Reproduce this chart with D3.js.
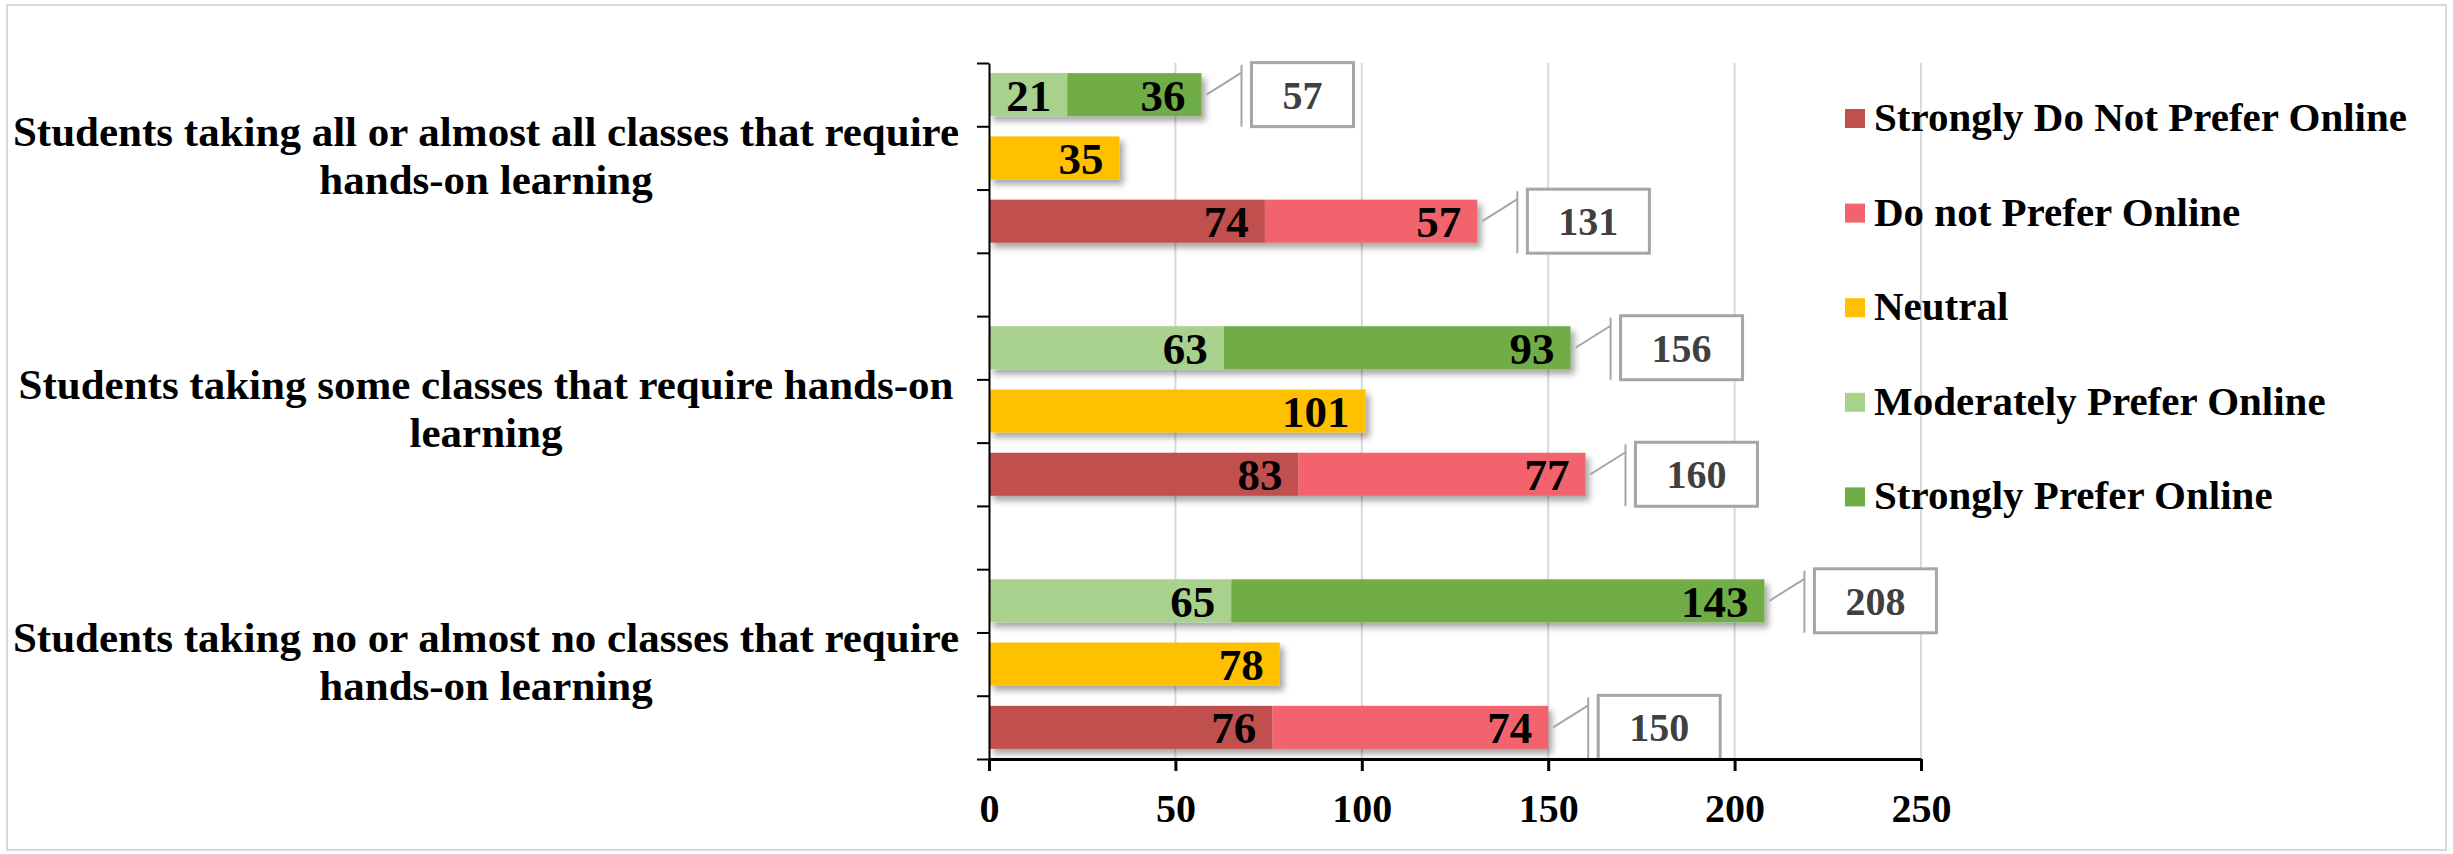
<!DOCTYPE html>
<html>
<head>
    <title>Online Preference by Hands-on Learning</title>
    <style>
        body { margin: 0; background: #fff; }
        svg { display: block; font-family: "Liberation Serif", "Times New Roman", serif; font-weight: bold; }
        .grid line { stroke: #d9d9d9; stroke-width: 2; }
        .axis path, .axis line { stroke: #000; }
        .total-box { fill: #fff; stroke: #a6a6a6; stroke-width: 3; }
        .leader { stroke: #a6a6a6; stroke-width: 2; fill: none; }
    </style>
</head>
<body>
    <svg id="chart"></svg>
    <script src="https://d3js.org/d3.v7.min.js"></script>
    <script>
        // Data
        const categoryLines = [
            ["Students taking all or almost all classes that require", "hands-on learning"],
            ["Students taking some classes that require hands-on", "learning"],
            ["Students taking no or almost no classes that require", "hands-on learning"]
        ];
        const seriesNames = ["Strongly Do Not Prefer Online", "Do not Prefer Online", "Neutral",
                             "Moderately Prefer Online", "Strongly Prefer Online"];
        const seriesColors = ["#c0504d", "#f2636e", "#ffc000", "#a9d18e", "#70ad47"];
        const stronglyDoNot = [74, 83, 76];
        const doNot = [57, 77, 74];
        const neutral = [35, 101, 78];
        const moderately = [21, 63, 65];
        const stronglyPrefer = [36, 93, 143];
        const xTicks = [0, 50, 100, 150, 200, 250];

        const width = 2453, height = 854;
        const svg = d3.select("#chart").attr("width", width).attr("height", height);

        // outer frame
        svg.append("rect")
            .attr("x", 7).attr("y", 5).attr("width", 2439).attr("height", 845)
            .attr("fill", "#fff").attr("stroke", "#d9d9d9").attr("stroke-width", 2);

        // shadow for bars
        svg.append("defs").append("filter")
            .attr("id", "shadow").attr("x", "-5%").attr("y", "-30%").attr("width", "115%").attr("height", "180%")
            .append("feDropShadow")
            .attr("dx", 4).attr("dy", 5).attr("stdDeviation", 3)
            .attr("flood-color", "#000").attr("flood-opacity", 0.35);

        // rows: 3 bars per category, one blank row between groups
        const rows = [];
        categoryLines.forEach((c, i) => {
            rows.push({ cat: i, idx: i * 4, segs: [{ v: moderately[i], s: 3 }, { v: stronglyPrefer[i], s: 4 }], total: true });
            rows.push({ cat: i, idx: i * 4 + 1, segs: [{ v: neutral[i], s: 2 }], total: false });
            rows.push({ cat: i, idx: i * 4 + 2, segs: [{ v: stronglyDoNot[i], s: 0 }, { v: doNot[i], s: 1 }], total: true });
        });
        const nRows = categoryLines.length * 4 - 1;

        // Scales
        const x = d3.scaleLinear().domain([0, 250]).range([989, 1921]);
        const y = d3.scaleBand().domain(d3.range(nRows)).range([63, 759])
            .paddingInner(0.32).paddingOuter(0.16);
        const rowScale = d3.scaleLinear().domain([0, nRows]).range([63, 759]);

        // Gridlines
        svg.append("g").attr("class", "grid")
            .selectAll("line")
            .data(xTicks.slice(1))
            .enter().append("line")
            .attr("x1", d => x(d)).attr("x2", d => x(d))
            .attr("y1", rowScale(0)).attr("y2", rowScale(nRows));

        // Bars
        const rowG = svg.append("g")
            .selectAll("g")
            .data(rows)
            .enter().append("g");

        rowG.append("g")
            .attr("filter", "url(#shadow)")
            .selectAll("rect")
            .data(d => {
                let acc = 0;
                return d.segs.map(s => { const o = { x0: acc, x1: acc + s.v, s: s.s, v: s.v, idx: d.idx }; acc += s.v; return o; });
            })
            .enter().append("rect")
            .attr("x", d => x(d.x0))
            .attr("y", d => y(d.idx))
            .attr("width", d => x(d.x1) - x(d.x0))
            .attr("height", y.bandwidth())
            .attr("fill", d => seriesColors[d.s]);

        // Segment labels (inside end)
        rowG.selectAll("text.seg")
            .data(d => {
                let acc = 0;
                return d.segs.map(s => { acc += s.v; return { end: acc, v: s.v, idx: d.idx }; });
            })
            .enter().append("text")
            .attr("class", "seg")
            .attr("x", d => x(d.end) - 16)
            .attr("y", d => y(d.idx) + y.bandwidth() / 2 + 16)
            .attr("text-anchor", "end")
            .attr("font-size", 45)
            .attr("fill", "#000")
            .text(d => d.v);

        // Total callouts
        rowG.filter(d => d.total).each(function (d) {
            const g = d3.select(this);
            const total = d3.sum(d.segs, s => s.v);
            const end = x(total);
            const cy = y(d.idx) + y.bandwidth() / 2;
            const boxLeft = end + 50;
            const t = g.append("text")
                .attr("font-size", 40)
                .attr("fill", "#404040")
                .attr("text-anchor", "middle")
                .text(total);
            const tw = t.node().getComputedTextLength();
            const bw = tw + 62, bh = 64;
            g.insert("rect", "text.total")
                .attr("class", "total-box")
                .attr("x", boxLeft).attr("y", cy - bh / 2)
                .attr("width", bw).attr("height", bh);
            t.raise()
                .attr("x", boxLeft + bw / 2)
                .attr("y", cy + 14);
            g.append("path")
                .attr("class", "leader")
                .attr("d", `M${end + 5},${cy} L${boxLeft - 10},${cy - 22} M${boxLeft - 10},${cy - bh / 2 + 2} L${boxLeft - 10},${cy + bh / 2}`);
        });

        // Y axis with ticks between rows
        const yAxis = svg.append("g").attr("class", "axis")
            .attr("transform", `translate(${x(0)},0)`)
            .call(d3.axisLeft(rowScale).tickValues(d3.range(nRows + 1)).tickFormat("").tickSize(12).tickSizeOuter(0));
        yAxis.selectAll("path, line").attr("stroke-width", 2);

        // X axis
        const xAxis = svg.append("g").attr("class", "axis")
            .attr("transform", `translate(0,${rowScale(nRows)})`)
            .call(d3.axisBottom(x).tickValues(xTicks).tickSize(12).tickSizeOuter(0).tickPadding(23));
        xAxis.selectAll("path, line").attr("stroke-width", 3);
        xAxis.selectAll("text")
            .attr("font-size", 40)
            .attr("font-family", "Liberation Serif, Times New Roman, serif")
            .attr("font-weight", "bold")
            .attr("fill", "#000");

        // Category labels
        const catCenter = i => (rowScale(i * 4) + rowScale(i * 4 + 3)) / 2;
        svg.append("g")
            .selectAll("text")
            .data(categoryLines)
            .enter().append("text")
            .attr("text-anchor", "middle")
            .attr("font-size", 43)
            .attr("fill", "#000")
            .each(function (lines, i) {
                d3.select(this).selectAll("tspan")
                    .data(lines)
                    .enter().append("tspan")
                    .attr("x", 486)
                    .attr("y", (l, j) => catCenter(i) - 12 + j * 48)
                    .text(l => l);
            });

        // Legend
        const legend = svg.append("g")
            .selectAll("g")
            .data(seriesNames)
            .enter().append("g")
            .attr("transform", (d, i) => `translate(1845,${131 + i * 94.6})`);
        legend.append("rect")
            .attr("x", 0).attr("y", -22).attr("width", 20).attr("height", 19)
            .attr("fill", (d, i) => seriesColors[i]);
        legend.append("text")
            .attr("x", 29).attr("y", 0)
            .attr("font-size", 41)
            .attr("fill", "#000")
            .text(d => d);
    </script>
</body>
</html>
